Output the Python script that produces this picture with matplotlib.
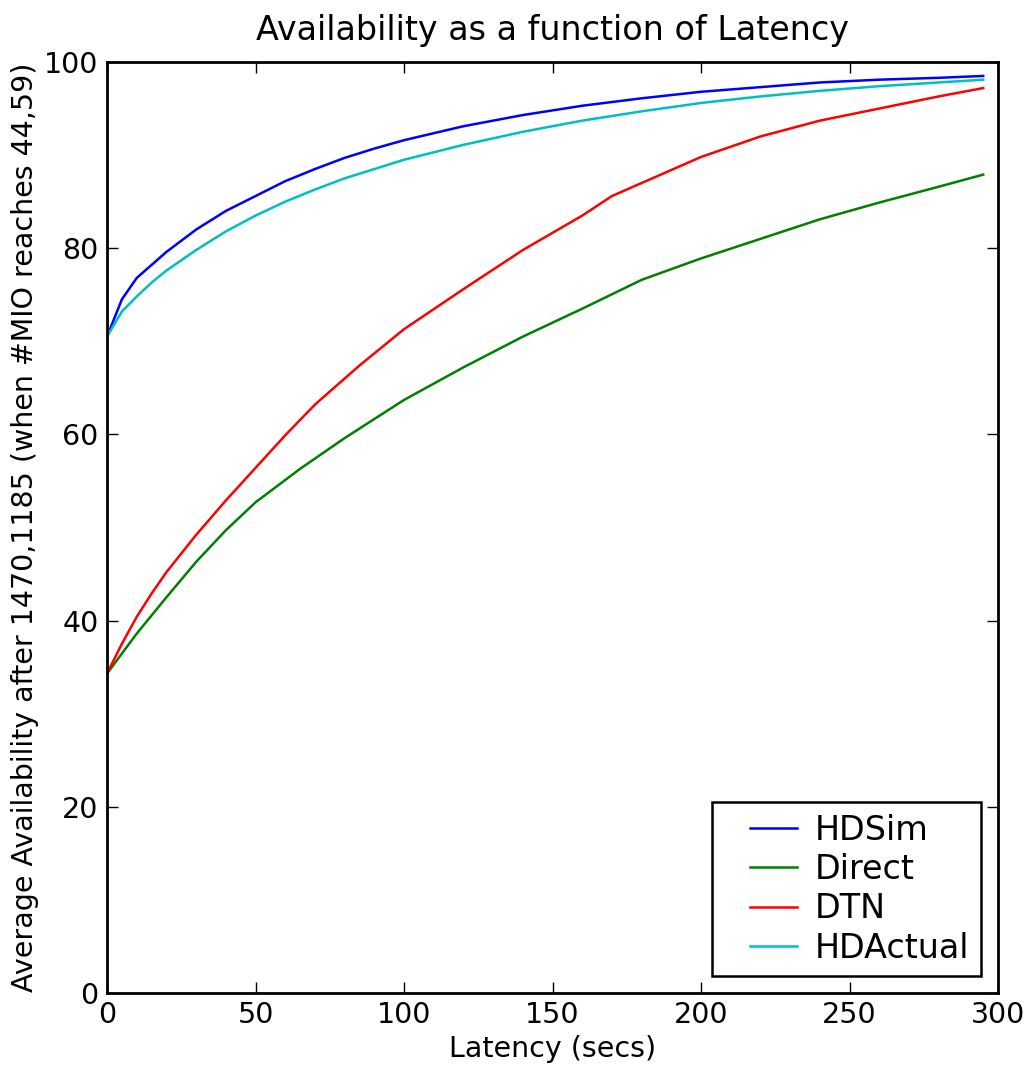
import matplotlib
matplotlib.use("Agg")
import matplotlib.pyplot as plt

hdsim_x = [0, 5, 10, 15, 20, 30, 40, 50, 60, 70, 80, 90, 100, 120, 140, 160, 180, 200, 220, 240, 260, 280, 295]
hdsim_y = [70.5, 74.5, 76.8, 78.2, 79.6, 82.0, 84.0, 85.6, 87.2, 88.5, 89.7, 90.7, 91.6, 93.1, 94.3, 95.3, 96.1, 96.8, 97.3, 97.8, 98.1, 98.3, 98.5]

direct_x = [0, 10, 20, 30, 40, 50, 65, 80, 100, 120, 140, 160, 180, 200, 220, 240, 260, 280, 295]
direct_y = [34.3, 38.6, 42.5, 46.3, 49.7, 52.7, 56.3, 59.6, 63.7, 67.2, 70.5, 73.5, 76.6, 78.9, 81.0, 83.1, 84.9, 86.6, 87.9]

dtn_x = [0, 5, 10, 15, 20, 30, 40, 50, 60, 70, 85, 100, 120, 140, 160, 170, 180, 200, 220, 240, 260, 280, 295]
dtn_y = [34.3, 37.5, 40.4, 42.9, 45.2, 49.2, 52.9, 56.4, 59.9, 63.2, 67.4, 71.3, 75.6, 79.8, 83.5, 85.6, 87.0, 89.8, 92.0, 93.7, 95.0, 96.3, 97.2]

hdact_x = [0, 5, 10, 15, 20, 30, 40, 50, 60, 70, 80, 90, 100, 120, 140, 160, 180, 200, 220, 240, 260, 280, 295]
hdact_y = [70.5, 73.2, 74.8, 76.3, 77.6, 79.8, 81.8, 83.5, 85.0, 86.3, 87.5, 88.5, 89.5, 91.1, 92.5, 93.7, 94.7, 95.6, 96.3, 96.9, 97.4, 97.8, 98.1]

series_names = ["HDSim", "Direct", "DTN", "HDActual"]
series_colors = ["#0000ff", "#008000", "#ff0000", "#00bfbf"]

xticks = [0, 50, 100, 150, 200, 250, 300]
yticks = [0, 20, 40, 60, 80, 100]

plt.rcParams['font.family'] = ['DejaVu Sans']

fig = plt.figure(figsize=(10.32, 10.67), dpi=100)
ax = fig.add_axes([0.1037, 0.0694, 0.8634, 0.8725])

data = [(hdsim_x, hdsim_y), (direct_x, direct_y), (dtn_x, dtn_y), (hdact_x, hdact_y)]
for (xs, ys), name, col in zip(data, series_names, series_colors):
    ax.plot(xs, ys, color=col, lw=1.8, label=name)

ax.set_xlim(0, 300)
ax.set_ylim(0, 100)
ax.set_xticks(xticks)
ax.set_yticks(yticks)
ax.tick_params(direction='in', length=8, width=1, top=True, right=True,
               labelsize=20.5, pad=6)
for s in ax.spines.values():
    s.set_linewidth(2)
    s.set_color('black')

ax.set_title("Availability as a function of Latency", fontsize=24, pad=16)
ax.set_xlabel("Latency (secs)", fontsize=20.5, labelpad=4)
ax.set_ylabel("Average Availability after 1470,1185 (when #MIO reaches 44,59)", fontsize=20.5, labelpad=4)

leg = ax.legend(loc='lower right', fontsize=24, fancybox=False, framealpha=1,
                borderaxespad=0.5, handlelength=2.2, labelspacing=0.19,
                handletextpad=0.55, borderpad=0.35)
leg.get_frame().set_edgecolor('black')
leg.get_frame().set_linewidth(1.8)
# shorten the drawn handle lines so there is extra left margin inside the box
for ln in leg.get_lines():
    xd = list(ln.get_xdata())
    ln.set_xdata([xd[0] + 19.0, xd[-1]])
    ln.set_ydata([ln.get_ydata()[0], ln.get_ydata()[-1]])

fig.savefig("out.png", dpi=100)
